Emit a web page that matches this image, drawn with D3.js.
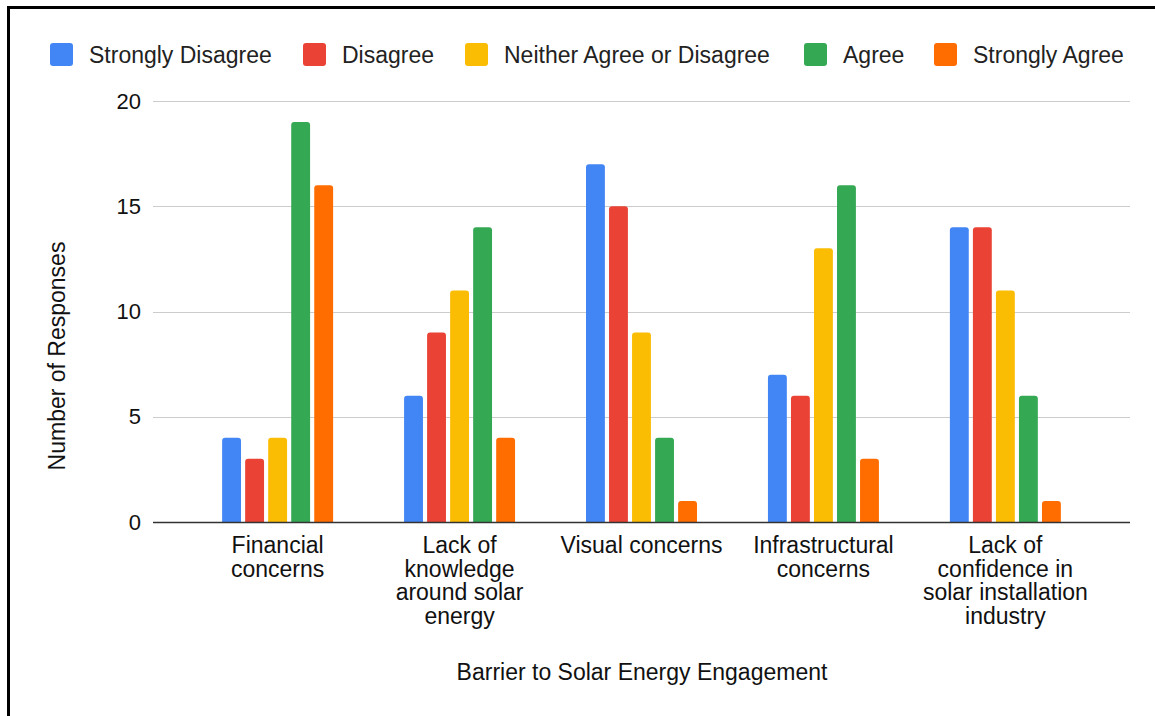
<!DOCTYPE html>
<html>
<head>
<meta charset="utf-8">
<script src="https://cdn.jsdelivr.net/npm/d3@7"></script>
<style>
  body { margin: 0; background: #fff; }
  svg { display: block; font-family: "Liberation Sans", Arial, sans-serif; }
</style>
</head>
<body>
<div id="chart"></div>
<script>
// Data
const categories = [
    ["Financial", "concerns"],
    ["Lack of", "knowledge", "around solar", "energy"],
    ["Visual concerns"],
    ["Infrastructural", "concerns"],
    ["Lack of", "confidence in", "solar installation", "industry"]
];
const seriesNames = ["Strongly Disagree", "Disagree", "Neither Agree or Disagree", "Agree", "Strongly Agree"];
const seriesColors = ["#4285F4", "#EA4335", "#FBBC04", "#34A853", "#FF6D01"];
const stronglyDisagree = [4, 6, 17, 7, 14];
const disagree = [3, 9, 15, 6, 14];
const neither = [4, 11, 9, 13, 11];
const agree = [19, 14, 4, 16, 6];
const stronglyAgree = [16, 4, 1, 3, 1];
const yTicks = [0, 5, 10, 15, 20];

const seriesValues = [stronglyDisagree, disagree, neither, agree, stronglyAgree];

const width = 1155, height = 716;
const margin = { top: 101, right: 25, bottom: 194, left: 153 };

const svg = d3.select("#chart").append("svg")
    .attr("width", width)
    .attr("height", height);

// outer border
svg.append("rect")
    .attr("x", 8.5).attr("y", 7.5)
    .attr("width", 1160).attr("height", 720)
    .attr("fill", "none")
    .attr("stroke", "#000")
    .attr("stroke-width", 3);

const catIdx = categories.map((d, i) => i);

const xScale = d3.scaleBand()
    .domain(catIdx)
    .range([margin.left, width - margin.right])
    .paddingInner(0.39)
    .paddingOuter(0.38);

const xSub = d3.scaleBand()
    .domain(seriesNames)
    .range([0, xScale.bandwidth()])
    .paddingInner(0.18);

const yScale = d3.scaleLinear()
    .domain([0, 20])
    .range([height - margin.bottom, margin.top]);

// gridlines
svg.append("g")
    .selectAll("line")
    .data(yTicks.filter(d => d > 0))
    .join("line")
    .attr("x1", margin.left)
    .attr("x2", width - margin.right)
    .attr("y1", d => Math.round(yScale(d)) + 0.5)
    .attr("y2", d => Math.round(yScale(d)) + 0.5)
    .attr("stroke", "#cccccc")
    .attr("stroke-width", 1);

// y axis labels
const yAxis = d3.axisLeft(yScale).tickValues(yTicks).tickSize(0).tickPadding(12);
const yG = svg.append("g")
    .attr("transform", `translate(${margin.left},0)`)
    .call(yAxis);
yG.select(".domain").remove();
yG.selectAll("text")
    .attr("font-size", "22px")
    .attr("font-family", "Liberation Sans, Arial, sans-serif")
    .attr("fill", "#111");

// bars with rounded top corners
function barPath(x, y, w, h, r) {
    r = Math.min(r, h, w / 2);
    return `M${x},${y + h}V${y + r}Q${x},${y} ${x + r},${y}H${x + w - r}Q${x + w},${y} ${x + w},${y + r}V${y + h}Z`;
}

const groups = svg.append("g")
    .selectAll("g")
    .data(catIdx)
    .join("g")
    .attr("transform", d => `translate(${xScale(d)},0)`);

groups.selectAll("path")
    .data(ci => seriesNames.map((s, si) => ({ s, si, v: seriesValues[si][ci] })))
    .join("path")
    .attr("d", d => {
        const y0 = yScale(0), y1 = yScale(d.v);
        return barPath(xSub(d.s), y1, xSub.bandwidth(), y0 - y1, 3);
    })
    .attr("fill", d => seriesColors[d.si]);

// baseline
svg.append("line")
    .attr("x1", margin.left)
    .attr("x2", width - margin.right)
    .attr("y1", yScale(0) + 0.5)
    .attr("y2", yScale(0) + 0.5)
    .attr("stroke", "#333")
    .attr("stroke-width", 1.5);

// category labels
const xLabels = svg.append("g");
categories.forEach((lines, i) => {
    const t = xLabels.append("text")
        .attr("x", xScale(i) + xScale.bandwidth() / 2)
        .attr("y", yScale(0) + 31)
        .attr("text-anchor", "middle")
        .attr("font-size", "23px")
        .attr("fill", "#111");
    lines.forEach((ln, j) => {
        t.append("tspan")
            .attr("x", xScale(i) + xScale.bandwidth() / 2)
            .attr("dy", j === 0 ? 0 : 23.5)
            .text(ln);
    });
});

// axis titles
svg.append("text")
    .attr("transform", `translate(65, 356) rotate(-90)`)
    .attr("text-anchor", "middle")
    .attr("font-size", "23px")
    .attr("fill", "#111")
    .text("Number of Responses");

svg.append("text")
    .attr("x", 642)
    .attr("y", 680)
    .attr("text-anchor", "middle")
    .attr("font-size", "23px")
    .attr("fill", "#111")
    .text("Barrier to Solar Energy Engagement");

// legend
const legendX = [50, 303, 465, 804, 934];
const legend = svg.append("g")
    .selectAll("g")
    .data(seriesNames)
    .join("g")
    .attr("transform", (d, i) => `translate(${legendX[i]}, 43)`);

legend.append("rect")
    .attr("width", 23).attr("height", 23)
    .attr("rx", 3)
    .attr("fill", (d, i) => seriesColors[i]);

legend.append("text")
    .attr("x", 39)
    .attr("y", 19.5)
    .attr("font-size", "23px")
    .attr("fill", "#222")
    .text(d => d);
</script>
</body>
</html>
